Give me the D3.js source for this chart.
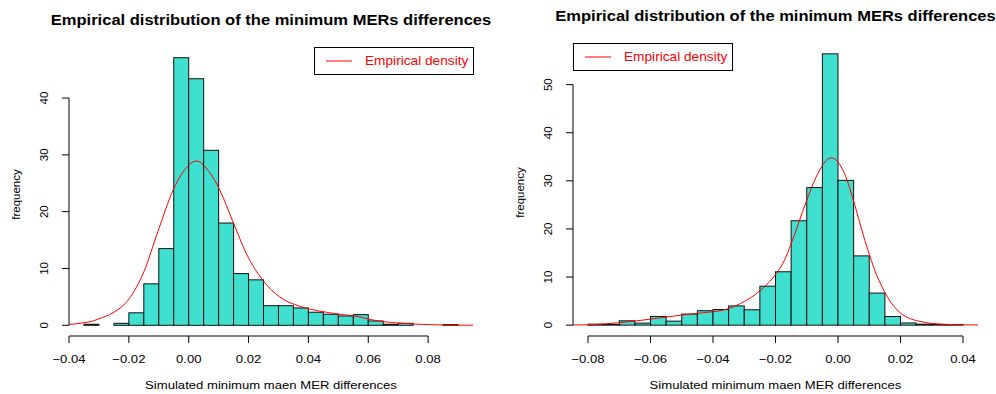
<!DOCTYPE html>
<html>
<head>
<meta charset="utf-8">
<script src="https://cdn.jsdelivr.net/npm/d3@7"></script>
<style>
  body { margin: 0; background: #fff; }
  svg { display: block; }
  text { font-family: "Liberation Sans", Arial, Helvetica, sans-serif; }
</style>
</head>
<body>
<svg id="chart" width="996" height="394"></svg>
<script>
var titleText = "Empirical distribution of the minimum MERs differences",
    xTitleText = "Simulated minimum maen MER differences",
    yTitleText = "frequency",
    legendText = "Empirical density";

// left panel
var leftBreaks = [-0.035, -0.03, -0.025, -0.02, -0.015, -0.01, -0.005, 0, 0.005, 0.01, 0.015, 0.02, 0.025,
                  0.03, 0.035, 0.04, 0.045, 0.05, 0.055, 0.06, 0.065, 0.07, 0.075, 0.08, 0.085, 0.09];
var leftFreq = [0.18, 0, 0.35, 2.2, 7.3, 13.5, 47.1, 43.4, 30.8, 18.0, 9.1, 8.0, 3.45,
                3.45, 3.05, 2.3, 1.94, 1.64, 1.88, 0.76, 0.18, 0.35, 0, 0, 0.12];
var leftDensX = [-0.04, -0.035, -0.032, -0.03, -0.0253, -0.02, -0.015, -0.0103, -0.0052, -0.0019, 0.0026,
                 0.007, 0.0104, 0.0148, 0.0193, 0.0248, 0.0304, 0.0371, 0.0438, 0.0505, 0.0572, 0.06,
                 0.065, 0.07, 0.075, 0.08, 0.085, 0.09, 0.095];
var leftDensY = [0.15, 0.45, 0.76, 1.15, 2.2, 4.6, 9.4, 16.5, 23.8, 27, 28.9,
                 26.9, 23.8, 18.2, 12.6, 7.9, 5.0, 3.35, 2.5, 1.94, 1.47, 1.1,
                 0.65, 0.4, 0.23, 0.12, 0.06, 0.02, 0.01];
var leftXTicks = [-0.04, -0.02, 0, 0.02, 0.04, 0.06, 0.08];
var leftYTicks = [0, 10, 20, 30, 40];

// right panel
var rightBreaks = [-0.08, -0.075, -0.07, -0.065, -0.06, -0.055, -0.05, -0.045, -0.04, -0.035, -0.03, -0.025,
                   -0.02, -0.015, -0.01, -0.005, 0, 0.005, 0.01, 0.015, 0.02, 0.025, 0.03, 0.035, 0.04];
var rightFreq = [0.2, 0.15, 0.9, 0.42, 1.8, 0.83, 2.3, 3.0, 3.25, 4.0, 3.2, 8.1,
                 11.1, 21.7, 28.6, 56.4, 30.1, 14.4, 6.67, 1.8, 0.45, 0.2, 0.14, 0.14];
var rightDensX = [-0.0849, -0.08, -0.07, -0.06, -0.05, -0.04, -0.0376, -0.0312, -0.0247, -0.02, -0.0172,
                  -0.015, -0.0102, -0.007, -0.0022, 0.0021, 0.0054, 0.0086, 0.0107, 0.0118, 0.0137, 0.015,
                  0.0204, 0.0268, 0.0333, 0.0397, 0.0448];
var rightDensY = [0.02, 0.07, 0.5, 1.25, 2.1, 2.8, 3.0, 4.5, 7.3, 10.5, 13.4,
                  16.9, 25.6, 30.8, 34.8, 31.5, 24.9, 17.6, 13.4, 11.3, 8.5, 6.8,
                  2.3, 0.7, 0.2, 0.07, 0.03];
var rightXTicks = [-0.08, -0.06, -0.04, -0.02, 0, 0.02, 0.04];
var rightYTicks = [0, 10, 20, 30, 40, 50];

var svg = d3.select("#chart"),
    stretch = 1.14,
    fmt = d3.format(".2f");

// horizontal text, squeezed the way the source picture is
function label(g, x, y, str, size, opts) {
  opts = opts || {};
  return g.append("text")
      .attr("transform", "translate(" + x + "," + y + ") scale(" + stretch + ",1)")
      .attr("text-anchor", opts.anchor || "middle")
      .attr("font-size", size)
      .attr("font-weight", opts.bold ? "bold" : null)
      .attr("fill", opts.fill || "#000")
      .text(str);
}

function panel(id, box, breaks, freq, densX, densY, xTicks, yTicks, legendPos) {
  var g = svg.append("g").attr("class", id);
  var lo = breaks[0], hi = breaks[breaks.length - 1], r = hi - lo,
      ymax = d3.max(freq);

  var x = d3.scaleLinear().domain([lo - 0.04 * r, hi + 0.04 * r]).range([box.x0, box.x1]);
  var y = d3.scaleLinear().domain([-0.04 * ymax, ymax * 1.04]).range([box.y1, box.y0]);

  g.append("clipPath").attr("id", id + "-clip")
    .append("rect")
      .attr("x", box.x0).attr("y", box.y0)
      .attr("width", box.x1 - box.x0).attr("height", box.y1 - box.y0);

  var bins = freq.map(function (f, i) { return { x0: breaks[i], x1: breaks[i + 1], f: f }; });

  g.append("g").selectAll("rect")
      .data(bins)
      .enter()
      .append("rect")
      .attr("x", function (d) { return x(d.x0); })
      .attr("width", function (d) { return x(d.x1) - x(d.x0); })
      .attr("y", function (d) { return y(d.f); })
      .attr("height", function (d) { return y(0) - y(d.f); })
      .attr("fill", "#40E0D0")
      .attr("stroke", "#111")
      .attr("stroke-width", 1);

  var line = d3.line()
      .x(function (d) { return x(d[0]); })
      .y(function (d) { return y(d[1]); })
      .curve(d3.curveMonotoneX);

  g.append("path")
      .datum(d3.zip(densX, densY))
      .attr("clip-path", "url(#" + id + "-clip)")
      .attr("d", line)
      .attr("fill", "none")
      .attr("stroke", "#ff0000")
      .attr("stroke-width", 1);

  // x axis, R style: line spans first to last tick
  var xa = g.append("g").attr("transform", "translate(0," + box.y1 + ")");
  xa.append("line")
      .attr("x1", x(xTicks[0])).attr("x2", x(xTicks[xTicks.length - 1]))
      .attr("stroke", "#000");
  xa.selectAll(".tk").data(xTicks).enter().append("line")
      .attr("x1", x).attr("x2", x).attr("y2", 7).attr("stroke", "#000");
  xTicks.forEach(function (t) {
    label(xa, x(t), 27, fmt(t).replace("-0.00", "0.00"), 11.5);
  });

  var ya = g.append("g").attr("transform", "translate(" + box.x0 + ",0)");
  ya.append("line")
      .attr("y1", y(yTicks[0])).attr("y2", y(yTicks[yTicks.length - 1]))
      .attr("stroke", "#000");
  ya.selectAll(".tk").data(yTicks).enter().append("line")
      .attr("y1", y).attr("y2", y).attr("x2", -7).attr("stroke", "#000");
  ya.selectAll(".lb").data(yTicks).enter().append("text")
      .attr("transform", function (d) { return "translate(-21," + y(d) + ") rotate(-90)"; })
      .attr("text-anchor", "middle")
      .attr("font-size", 11.5)
      .text(function (d) { return d; });

  var cx = (box.x0 + box.x1) / 2;
  label(g, cx, box.y0 - 22, titleText, 14.5, { bold: true });
  label(g, cx, box.y1 + 53, xTitleText, 11.5);

  g.append("text")
      .attr("transform", "translate(" + (box.x0 - 49) + "," + ((box.y0 + box.y1) / 2 + 3) + ") rotate(-90)")
      .attr("text-anchor", "middle")
      .attr("font-size", 11.5)
      .text(yTitleText);

  // legend box
  var lw = 159, lh = 27,
      lx = legendPos === "topright" ? box.x1 - lw : box.x0,
      ly = box.y0;
  var lg = g.append("g").attr("transform", "translate(" + lx + "," + ly + ")");
  lg.append("rect")
      .attr("x", 0.5).attr("y", 0.5).attr("width", lw).attr("height", lh)
      .attr("fill", "#fff").attr("stroke", "#000");
  lg.append("line")
      .attr("x1", 12).attr("x2", 38).attr("y1", lh / 2 + 0.5).attr("y2", lh / 2 + 0.5)
      .attr("stroke", "#ff0000");
  label(lg, 51, lh / 2 + 4.5, legendText, 12, { anchor: "start", fill: "#ff0000" });
}

panel("left", { x0: 69, x1: 473, y0: 47, y1: 336 },
      leftBreaks, leftFreq, leftDensX, leftDensY, leftXTicks, leftYTicks, "topright");
panel("right", { x0: 573, x1: 978, y0: 43, y1: 336 },
      rightBreaks, rightFreq, rightDensX, rightDensY, rightXTicks, rightYTicks, "topleft");
</script>
</body>
</html>
